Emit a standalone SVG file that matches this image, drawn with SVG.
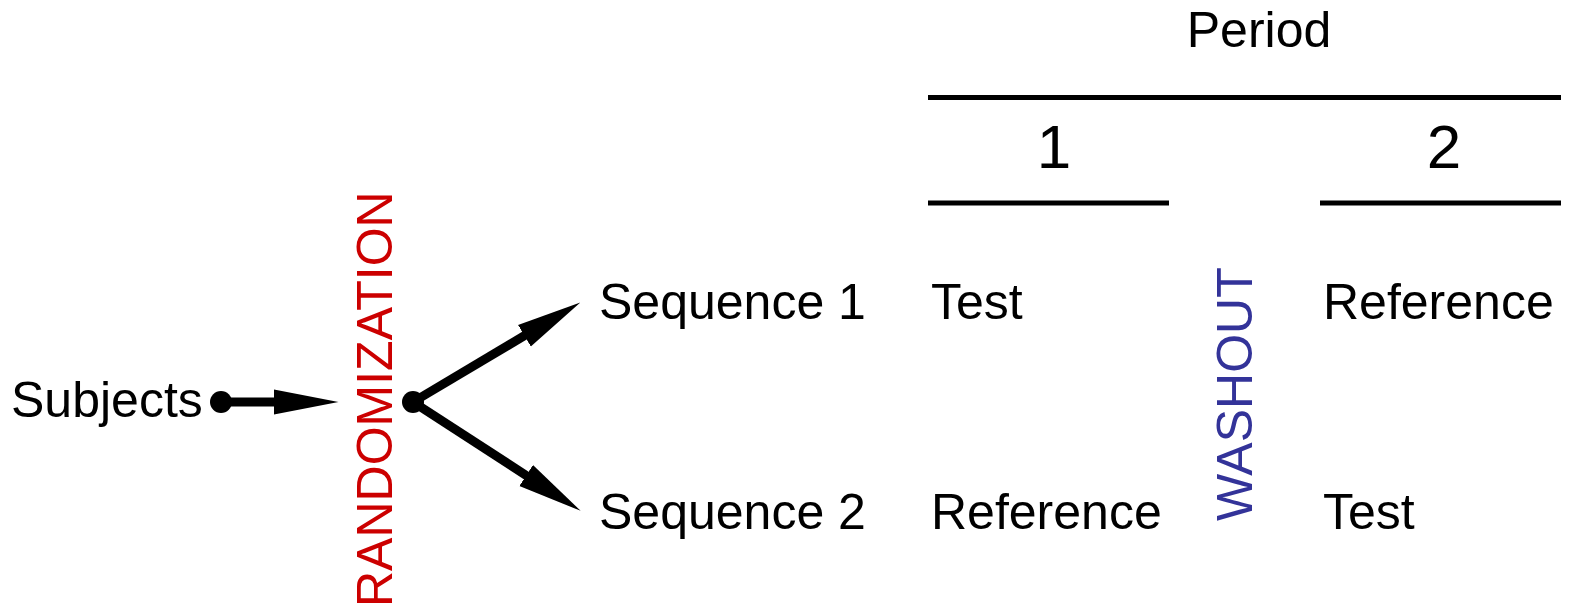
<svg xmlns="http://www.w3.org/2000/svg" width="1572" height="611" viewBox="0 0 1572 611">
<style>
text{font-family:"Liberation Sans",Arial,sans-serif;font-size:50px;fill:#000}
.big{font-size:62px}
.red{fill:#cc0000}
.blue{fill:#333399}
.rule{stroke:#000;stroke-width:5;fill:none}
.conn{stroke:#000;stroke-width:9;fill:none}
</style>
<defs>
<marker id="ah" markerUnits="userSpaceOnUse" markerWidth="70" markerHeight="30" viewBox="0 -15 70 30" refX="1" refY="0" orient="auto">
<path d="M0,-12.5 L65,0 L0,12.5 Z" fill="#000"/>
</marker>
</defs>
<g id="header">
<text x="1259" y="47" text-anchor="middle">Period</text>
<line class="rule" x1="928" y1="97.5" x2="1561" y2="97.5"/>
<text class="big" x="1054" y="168" text-anchor="middle">1</text>
<text class="big" x="1444" y="168" text-anchor="middle">2</text>
<line class="rule" x1="928" y1="203" x2="1169" y2="203"/>
<line class="rule" x1="1320" y1="203" x2="1561" y2="203"/>
</g>
<g id="subjects"><text x="11" y="417">Subjects</text></g>
<g id="randomization"><text class="red" transform="translate(392,607) rotate(-90)">RANDOMIZATION</text></g>
<g id="washout"><text class="blue" transform="translate(1252,521) rotate(-90)">WASHOUT</text></g>
<g id="seq1"><text x="599" y="319">Sequence 1</text></g>
<g id="seq2"><text x="599" y="529">Sequence 2</text></g>
<g id="p1s1"><text x="931" y="319">Test</text></g>
<g id="p2s1"><text x="1323" y="319">Reference</text></g>
<g id="p1s2"><text x="931" y="529">Reference</text></g>
<g id="p2s2"><text x="1323" y="529">Test</text></g>
<g id="connectors">
<circle cx="221" cy="402" r="11" fill="#000"/>
<circle cx="413" cy="402" r="11" fill="#000"/>
<line class="conn" x1="221" y1="402" x2="274.5" y2="402" marker-end="url(#ah)"/>
<line class="conn" x1="413" y1="402" x2="525.3" y2="335.2" marker-end="url(#ah)"/>
<line class="conn" x1="413" y1="402" x2="527" y2="476" marker-end="url(#ah)"/>
</g>
</svg>
